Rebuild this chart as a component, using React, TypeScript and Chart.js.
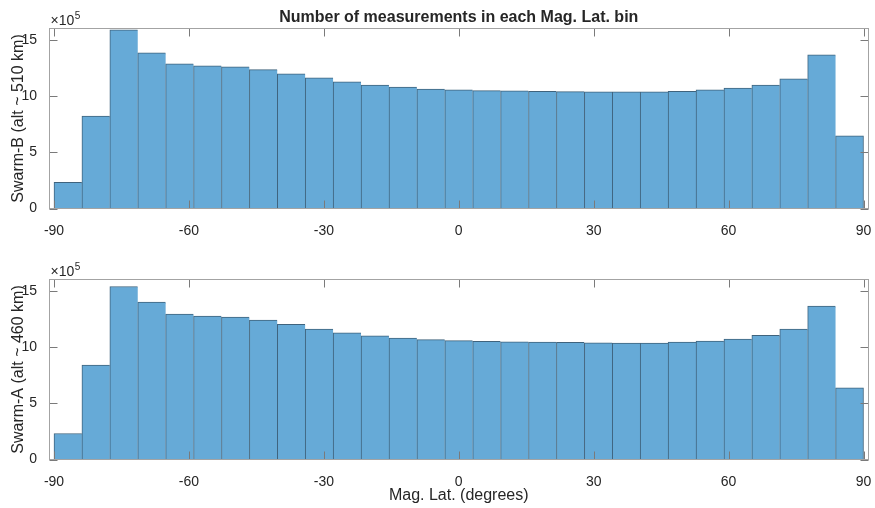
import React, { useEffect, useRef } from 'react';
import { Chart, registerables } from 'chart.js';

Chart.register(...registerables);

// ---- data (counts are in units of 1e5) ----
const BIN_COUNT = 29;
const BIN_START = -90;
const BIN_END = 90;
const BIN_EDGES: number[] = Array.from({ length: BIN_COUNT + 1 }, (_, i) => BIN_START + (i * (BIN_END - BIN_START)) / BIN_COUNT);
const BIN_CENTERS: number[] = BIN_EDGES.slice(0, -1).map((e, i) => (e + BIN_EDGES[i + 1]) / 2);

const SWARM_B_COUNTS = [
  2.32, 8.21, 15.89, 13.84, 12.86, 12.68, 12.59, 12.35, 11.96, 11.61,
  11.25, 10.98, 10.80, 10.62, 10.54, 10.48, 10.45, 10.42, 10.39, 10.36,
  10.36, 10.36, 10.41, 10.54, 10.71, 10.98, 11.52, 13.66, 6.46,
];
const SWARM_A_COUNTS = [
  2.31, 8.40, 15.38, 13.99, 12.93, 12.75, 12.66, 12.40, 12.01, 11.60,
  11.27, 11.00, 10.80, 10.65, 10.56, 10.50, 10.47, 10.44, 10.41, 10.38,
  10.35, 10.35, 10.44, 10.53, 10.71, 11.03, 11.60, 13.64, 6.36,
];

const X_TICKS = [-90, -60, -30, 0, 30, 60, 90];
const Y_TICKS = [0, 5, 10, 15];
const X_MIN = -91;
const X_MAX = 91;
const Y_MIN = 0;
const Y_MAX = 16;

const TITLE = 'Number of measurements in each Mag. Lat. bin';
const Y_TITLE_B = 'Swarm-B (alt ~ 510 km)';
const Y_TITLE_A = 'Swarm-A (alt ~ 460 km)';
const X_TITLE = 'Mag. Lat. (degrees)';
const EXP_BASE = '\u00d710';
const EXP_POWER = '5';

// ---- styles ----
const FONT = '"Liberation Sans", Arial, Helvetica, sans-serif';
const TEXT_COLOR = '#262626';
const AXIS_COLOR = '#a3a3a3';
const TICK_COLOR = '#7a7a7a';
const FILL = 'rgb(102,170,215)';
const EDGE = '#3f637d';
const W = 875;

type PanelProps = {
  counts: number[];
  yTitle: string;
  xTitle?: string;
  title?: string;
  top: number;
  height: number;
};

function Panel({ counts, yTitle, xTitle, title, top, height }: PanelProps) {
  const ref = useRef<HTMLCanvasElement | null>(null);

  useEffect(() => {
    if (!ref.current) return;
    const plotTop = 28.5;
    const plotBottom = 208.5;
    const framePlugin = {
      id: 'frame',
      afterDraw(chart: any) {
        const { ctx, chartArea: a, scales } = chart;
        const L = Math.floor(a.left) + 0.5;
        const R = Math.floor(a.right) + 0.5;
        const T = Math.floor(a.top) + 0.5;
        const B = Math.floor(a.bottom) + 0.5;
        const TL = 8;
        ctx.save();
        ctx.lineWidth = 1;
        ctx.strokeStyle = TICK_COLOR;
        ctx.beginPath();
        for (const t of scales.x.ticks) {
          const px = Math.round(scales.x.getPixelForValue(t.value)) + 0.5;
          ctx.moveTo(px, B);
          ctx.lineTo(px, B - TL);
          ctx.moveTo(px, T);
          ctx.lineTo(px, T + TL);
        }
        for (const t of scales.y.ticks) {
          const py = Math.round(scales.y.getPixelForValue(t.value)) + 0.5;
          ctx.moveTo(L, py);
          ctx.lineTo(L + TL, py);
          ctx.moveTo(R, py);
          ctx.lineTo(R - TL, py);
        }
        ctx.stroke();
        ctx.strokeStyle = AXIS_COLOR;
        ctx.strokeRect(L, T, R - L, B - T);
        // exponent label
        ctx.fillStyle = TEXT_COLOR;
        ctx.textAlign = 'left';
        ctx.textBaseline = 'alphabetic';
        ctx.font = `14px ${FONT}`;
        const baseY = a.top - 3.5;
        const x0 = a.left + 1;
        ctx.fillText(EXP_BASE, x0, baseY);
        const w = ctx.measureText(EXP_BASE).width;
        ctx.font = `10px ${FONT}`;
        ctx.fillText(EXP_POWER, x0 + w + 0.5, baseY - 6.5);
        if (title) {
          ctx.font = `bold 16px ${FONT}`;
          ctx.textAlign = 'center';
          ctx.fillText(title, (a.left + a.right) / 2, 21.5);
        }
        ctx.restore();
      },
    };

    const last = counts.length - 1;
    const chart = new Chart(ref.current, {
      type: 'bar',
      data: {
        datasets: [
          {
            data: BIN_CENTERS.map((c, i) => ({ x: c, y: counts[i] })),
            backgroundColor: FILL,
            borderColor: EDGE,
            borderWidth: (ctx: any) => ({ left: 1, top: 1, right: ctx.dataIndex === last ? 1 : 0, bottom: 0 }),
            borderSkipped: false,
            barPercentage: 1,
            categoryPercentage: 1,
          } as any,
        ],
      },
      options: {
        responsive: false,
        animation: false,
        events: [],
        layout: { padding: { top: plotTop, right: 7, left: 0, bottom: 0 } },
        plugins: {
          legend: { display: false },
          tooltip: { enabled: false },
          title: { display: false },
        },
        scales: {
          x: {
            type: 'linear',
            min: X_MIN,
            max: X_MAX,
            offset: false,
            grid: { display: false, offset: false },
            border: { display: false },
            ticks: {
              font: { family: FONT, size: 14 },
              color: TEXT_COLOR,
              padding: 6,
              maxRotation: 0,
              autoSkip: false,
            },
            afterBuildTicks: (s: any) => {
              s.ticks = X_TICKS.map((v) => ({ value: v }));
            },
            afterFit: (s: any) => {
              s.height = height - plotBottom;
              s.paddingLeft = 0;
              s.paddingRight = 0;
            },
            title: xTitle
              ? {
                  display: true,
                  text: xTitle,
                  color: TEXT_COLOR,
                  font: { family: FONT, size: 16 },
                  padding: { top: 0, bottom: 2.5 },
                }
              : { display: false },
          },
          y: {
            type: 'linear',
            min: Y_MIN,
            max: Y_MAX,
            grid: { display: false },
            border: { display: false },
            ticks: {
              font: { family: FONT, size: 14 },
              color: TEXT_COLOR,
              padding: 4.5,
            },
            afterBuildTicks: (s: any) => {
              s.ticks = Y_TICKS.map((v) => ({ value: v }));
            },
            afterFit: (s: any) => {
              s.width = 49.5;
              s.paddingTop = 0;
              s.paddingBottom = 0;
            },
            title: {
              display: true,
              text: yTitle,
              color: TEXT_COLOR,
              font: { family: FONT, size: 16 },
              padding: { top: 9, bottom: 0 },
            },
          },
        },
      } as any,
      plugins: [framePlugin],
    });
    return () => chart.destroy();
  }, [counts, yTitle, xTitle, title, height]);

  return (
    <canvas
      ref={ref}
      width={W}
      height={height}
      style={{ position: 'absolute', left: 0, top, width: W, height, display: 'block' }}
    />
  );
}

export default function App() {
  return (
    <div style={{ position: 'absolute', left: 0, top: 0, width: W, height: 508, background: '#fff' }}>
      <Panel counts={SWARM_B_COUNTS} yTitle={Y_TITLE_B} title={TITLE} top={0} height={254} />
      <Panel counts={SWARM_A_COUNTS} yTitle={Y_TITLE_A} xTitle={X_TITLE} top={251} height={257} />
    </div>
  );
}
